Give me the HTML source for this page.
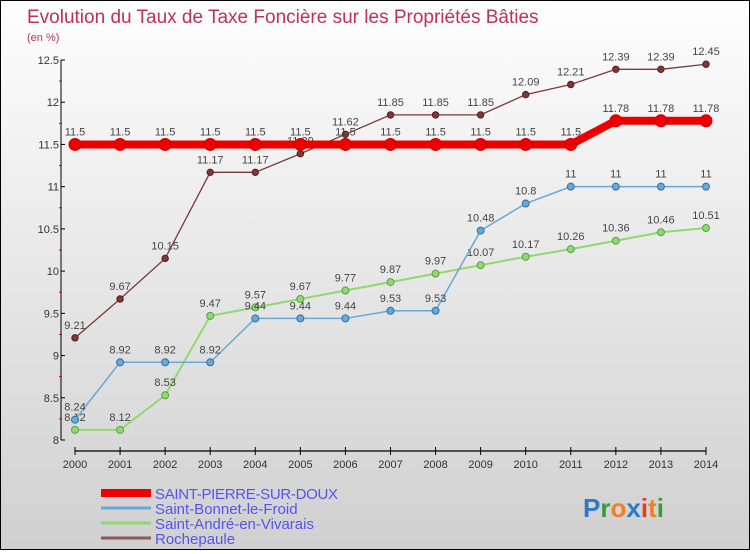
<!DOCTYPE html>
<html><head><meta charset="utf-8"><style>
html,body{margin:0;padding:0}
body{width:750px;height:550px;overflow:hidden;font-family:"Liberation Sans",sans-serif}
#wrap{position:relative;width:748px;height:548px;border:1px solid #000;background:linear-gradient(#fefefe,#d0d0d0)}
</style></head><body>
<div id="wrap">
<svg id="chart" width="748" height="548"></svg>
</div>
<script>
const years=[2000,2001,2002,2003,2004,2005,2006,2007,2008,2009,2010,2011,2012,2013,2014];
const yTicks=[8,8.5,9,9.5,10,10.5,11,11.5,12,12.5];
const seriesNames=["SAINT-PIERRE-SUR-DOUX","Saint-Bonnet-le-Froid","Saint-André-en-Vivarais","Rochepaule"];
const stPierre=[11.5,11.5,11.5,11.5,11.5,11.5,11.5,11.5,11.5,11.5,11.5,11.5,11.78,11.78,11.78];
const stBonnet=[8.24,8.92,8.92,8.92,9.44,9.44,9.44,9.53,9.53,10.48,10.8,11,11,11,11];
const stAndre=[8.12,8.12,8.53,9.47,9.57,9.67,9.77,9.87,9.97,10.07,10.17,10.26,10.36,10.46,10.51];
const rochepaule=[9.21,9.67,10.15,11.17,11.17,11.39,11.62,11.85,11.85,11.85,12.09,12.21,12.39,12.39,12.45];
const NS="http://www.w3.org/2000/svg";
const svg=document.getElementById('chart');
function mk(t,a,p){const e=document.createElementNS(NS,t);for(const k in a)e.setAttribute(k,a[k]);(p||svg).appendChild(e);return e;}
const X=i=>74+i*45.07;
const Y=v=>439-(v-8)/4.5*380;
let t=mk('text',{x:26,y:22,fill:'#c0305a','font-size':19});t.textContent="Evolution du Taux de Taxe Foncière sur les Propriétés Bâties";

t=mk('text',{x:26,y:40,fill:'#c0305a','font-size':11});t.textContent="(en %)";

let ax=mk('line',{x1:60,y1:Y(12.5),x2:60,y2:Y(8),stroke:'#000'});

yTicks.forEach(v=>{mk('line',{x1:60,y1:Y(v),x2:64,y2:Y(v),stroke:'#000'});
 mk('line',{x1:58,y1:Y(v+0.25),x2:61,y2:Y(v+0.25),stroke:v<12.5?'#d00':'none'});
 const e=mk('text',{x:58,y:Y(v)+4,'text-anchor':'end','font-size':11,fill:'#333'});e.textContent=String(v);
 });
ax=mk('line',{x1:X(0),y1:450,x2:X(14),y2:450,stroke:'#000','stroke-width':1.2});

years.forEach((y,i)=>{mk('line',{x1:X(i),y1:446,x2:X(i),y2:454,stroke:'#000'});
 const e=mk('text',{x:X(i),y:467,'text-anchor':'middle','font-size':11,fill:'#333'});e.textContent=y;
 });
function series(vals,name,col,dark,w,r){
 const g=mk('g',{});
 mk('polyline',{points:vals.map((v,i)=>X(i)+','+Y(v)).join(' '),fill:'none',stroke:col,'stroke-width':w},g);
 vals.forEach((v,i)=>{const c=mk('circle',{cx:X(i),cy:Y(v),r:r,fill:col,stroke:dark,'stroke-width':1},g);
  
  const e=mk('text',{x:X(i),y:Y(v)-9,'text-anchor':'middle','font-size':11,fill:'#444'},g);e.textContent=String(v);});
}
series(rochepaule,'series-rochepaule','#7a3a3a','#5a1a1a',1.3,3.2);
series(stAndre,'series-saint-andre','#90d870','#5aa040',2,3.5);
series(stBonnet,'series-saint-bonnet','#6aa8d8','#3070a8',1.5,3.5);
series(stPierre,'series-saint-pierre','#ee0000','#cc0000',8,6);
const cols=['#ee0000','#6aa8d8','#90d870','#8a5a5a'],ws=[8,3,3,3];
seriesNames.forEach((n,i)=>{const yy=492+i*15;
 const g=mk('g',{});
 mk('line',{x1:100,y1:yy,x2:150,y2:yy,stroke:cols[i],'stroke-width':ws[i]},g);
 const e=mk('text',{x:154,y:yy+6,'font-size':15,fill:'#5555ee','textLength':i==0?183:0},g);
 if(i!=0)e.removeAttribute('textLength');e.textContent=n;});
const lg=mk('text',{x:582,y:516,'font-size':26,'font-weight':'bold'});

[['P','#2a7ac8'],['r','#3a9a3a'],['o','#f08020'],['x','#2a7ac8'],['i','#e04020'],['t','#f08020'],['i','#3a9a3a']].forEach(([c,f])=>{const s=mk('tspan',{fill:f},lg);s.textContent=c;});
</script>
</body></html>
